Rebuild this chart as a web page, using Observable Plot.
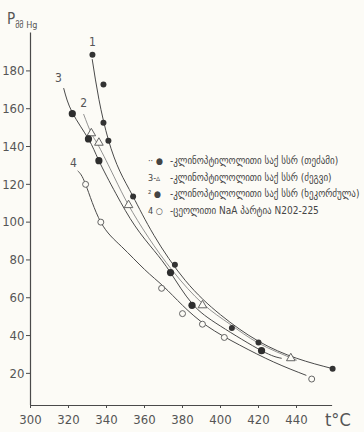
<!DOCTYPE html>
<html><head><meta charset="utf-8">
<script src="https://cdn.jsdelivr.net/npm/d3@7"></script>
<script src="https://cdn.jsdelivr.net/npm/@observablehq/plot@0.6"></script>
<style>
html,body{margin:0;padding:0;background:#fcfbf6;}
#wrap{position:relative;width:364px;height:432px;overflow:hidden;}
#legend{position:absolute;left:148px;top:153px;font-family:"DejaVu Sans Condensed","DejaVu Sans";font-size:10px;color:#444;line-height:16.5px;white-space:nowrap;}
#legend .m{display:inline-block;width:22px;text-align:left;font-size:9px;}
#ylab{position:absolute;left:7px;top:9px;font-family:"DejaVu Sans Condensed","DejaVu Sans";color:#555;white-space:nowrap;}
#ylab .p{font-size:15px;}
#ylab .s{font-size:9px;position:relative;top:4px;}
#tlab{position:absolute;left:325px;top:409px;font-family:"DejaVu Sans Condensed","DejaVu Sans";font-size:18px;color:#555;}
</style></head><body><div id="wrap"></div>
<script>
// tick labels
const xTicks = [300, 320, 340, 360, 380, 400, 420, 440];
const yTicks = [20, 40, 60, 80, 100, 120, 140, 160, 180];

// measured points (t °C, P mm Hg)
const s1T = [332.6, 338.4, 338.4, 341, 354, 376, 406, 420, 459];
const s1P = [188.6, 172.8, 152.6, 143, 113.5, 77.5, 44, 36.3, 22.5];
const s2T = [332, 336, 351.6, 390.5, 437];
const s2P = [147, 142, 109, 56, 28];
const s3T = [322, 330.5, 336, 373.7, 385, 421.6];
const s3P = [157.4, 144, 132.5, 73.3, 56, 32];
const s4T = [329, 337, 369, 380, 390.5, 402, 448];
const s4P = [120, 100, 65, 51.6, 46, 39, 17];

// hand-drawn curves
const c1T = [332.5, 336, 341, 347, 354, 365, 381.6, 400, 420, 440, 459];
const c1P = [186, 165, 143.5, 127, 113.5, 93, 69, 51, 37, 28, 22.5];
const c2T = [328, 332, 336, 344, 351.6, 362, 375, 390.5, 405, 420, 440];
const c2P = [157, 147, 140, 124, 109, 92, 74, 57, 46, 36, 27];
const c3T = [317.5, 322, 330.5, 336, 345, 355, 365, 373.7, 385, 400, 421.6, 432];
const c3P = [170.7, 158, 144, 132.5, 115, 98, 85, 73.3, 57, 45, 32, 28];
const c4T = [325, 329, 337, 348, 360, 370, 380, 393, 410, 428, 445];
const c4P = [127, 120, 100, 87, 75, 66, 56, 45, 35, 26, 19];

// curve numbers
const lblText = ["1", "2", "3", "4"];
const lblT = [332.6, 328, 314.7, 322.6];
const lblP = [195, 163, 176, 131];

const legendRows = [
  ["·· ●", "-კლინოპტილოლითი საქ სსრ (თეძამი)"],
  ["3-▵", "-კლინოპტილოლითი საქ სსრ (ძეგვი)"],
  ["² ●", "-კლინოპტილოლითი საქ სსრ (ხეკორძულა)"],
  ["4 ○", "-ცეოლითი NaA პარტია N202-225"]
];

const pts = (T, P) => T.map((t, i) => ({t, p: P[i]}));
const ink = "#4a4a4a";

const chart = Plot.plot({
  width: 364, height: 432,
  marginLeft: 30, marginRight: 30, marginTop: 32.6, marginBottom: 27,
  x: {domain: [300, 460]},
  y: {domain: [3, 200]},
  style: {background: "transparent", fontFamily: "'DejaVu Sans Condensed','DejaVu Sans'", color: "#555"},
  marks: [
    Plot.ruleX([300], {y1: 3, y2: 200, stroke: ink, strokeWidth: 1.2}),
    Plot.ruleY([3], {x1: 300, x2: 459, stroke: ink, strokeWidth: 1.2}),
    Plot.axisY({ticks: yTicks, tickSize: 4, tickPadding: 2, fontSize: 13, label: null, stroke: ink}),
    Plot.axisX({ticks: xTicks, tickSize: 3, tickPadding: 6, fontSize: 13, label: null, stroke: ink}),
    Plot.line(pts(c1T, c1P), {x: "t", y: "p", curve: "natural", stroke: ink, strokeWidth: 1}),
    Plot.line(pts(c2T, c2P), {x: "t", y: "p", curve: "natural", stroke: "#777", strokeWidth: 0.8}),
    Plot.line(pts(c3T, c3P), {x: "t", y: "p", curve: "natural", stroke: ink, strokeWidth: 1}),
    Plot.line(pts(c4T, c4P), {x: "t", y: "p", curve: "natural", stroke: ink, strokeWidth: 1}),
    Plot.dot(pts(s1T, s1P), {x: "t", y: "p", r: 3, fill: "#333", stroke: "none"}),
    Plot.dot(pts(s2T, s2P), {x: "t", y: "p", r: 3.2, symbol: "triangle", fill: "#fcfbf6", stroke: "#555", strokeWidth: 0.9}),
    Plot.dot(pts(s3T, s3P), {x: "t", y: "p", r: 3.6, fill: "#2e2e2e", stroke: "none"}),
    Plot.dot(pts(s4T, s4P), {x: "t", y: "p", r: 3, fill: "#fcfbf6", stroke: "#555", strokeWidth: 0.9}),
    Plot.text(lblText.map((s, i) => ({s, t: lblT[i], p: lblP[i]})), {x: "t", y: "p", text: "s", fontSize: 12, fill: "#555"})
  ]
});

const wrap = document.getElementById("wrap");
wrap.appendChild(chart);

const yl = document.createElement("div");
yl.id = "ylab";
yl.innerHTML = '<span class="p">P</span><span class="s">მმ Hg</span>';
wrap.appendChild(yl);

const tl = document.createElement("div");
tl.id = "tlab";
tl.textContent = "t°C";
wrap.appendChild(tl);

const lg = document.createElement("div");
lg.id = "legend";
legendRows.forEach(([m, txt]) => {
  const row = document.createElement("div");
  const ms = document.createElement("span");
  ms.className = "m"; ms.textContent = m;
  const ts = document.createElement("span");
  ts.textContent = txt;
  row.appendChild(ms); row.appendChild(ts);
  lg.appendChild(row);
});
wrap.appendChild(lg);
</script>
</body></html>
